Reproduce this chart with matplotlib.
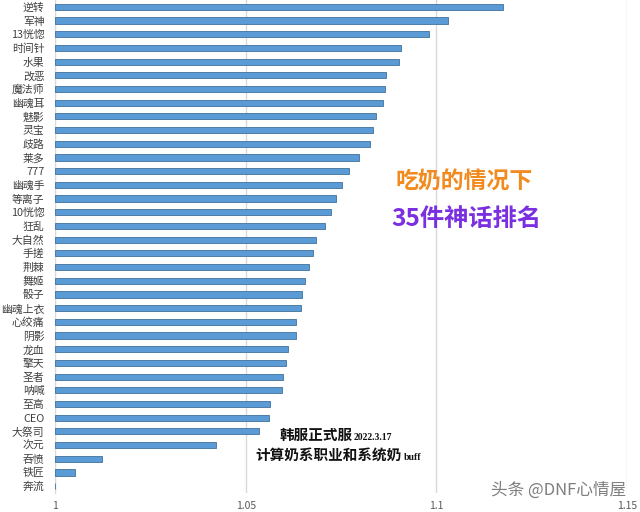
import matplotlib
matplotlib.use("Agg")
import matplotlib.pyplot as plt

plt.rcParams['font.family'] = ['Noto Sans CJK SC', 'DejaVu Sans']

categories = ['逆转', '军神', '13恍惚', '时间针', '水果', '改恶', '魔法师', '幽魂耳', '魅影', '灵宝',
              '歧路', '莱多', '777', '幽魂手', '等离子', '10恍惚', '狂乱', '大自然', '手搓', '荆棘',
              '舞姬', '骰子', '幽魂上衣', '心绞痛', '阴影', '龙血', '擎天', '圣者', '呐喊', '至高',
              'CEO', '大祭司', '次元', '吞愤', '铁匠', '奔流']
values = [1.1176, 1.1031, 1.0981, 1.0908, 1.0903, 1.0869, 1.0866, 1.0861, 1.0841, 1.0833,
          1.0826, 1.0797, 1.0771, 1.0753, 1.0737, 1.0724, 1.0707, 1.0684, 1.0676, 1.0667,
          1.0655, 1.0649, 1.0645, 1.0633, 1.0632, 1.0611, 1.0607, 1.0599, 1.0595, 1.0565,
          1.0561, 1.0535, 1.0421, 1.0124, 1.0053, 1.0]
x_ticks = [1.0, 1.05, 1.1, 1.15]
x_tick_labels = ['1', '1.05', '1.1', '1.15']
base = 1.0

W, H = 640, 512
fig = plt.figure(figsize=(6.4, 5.12), dpi=100)
ax = fig.add_axes([55 / W, 1 - 493 / H, (627 - 55) / W, 493 / H])

ypos = list(range(len(categories)))
ax.barh(ypos, [v - base for v in values], left=base, height=0.45,
        color='#5B9BD5', edgecolor='#41719C', linewidth=0.6, zorder=3)
ax.set_ylim(len(categories) - 0.5, -0.5)
ax.set_xlim(1.0, 1.15)
ax.set_yticks(ypos)
ax.set_yticklabels(categories, fontsize=7.8, color='#404040')
ax.set_xticks(x_ticks)
ax.set_xticklabels(x_tick_labels, fontsize=7.5, color='#595959')
ax.tick_params(axis='y', length=0, pad=7.5)
ax.tick_params(axis='x', length=0, pad=6)
ax.grid(axis='x', color='#D9D9D9', linewidth=1, zorder=0)
for s in ['top', 'right', 'bottom']:
    ax.spines[s].set_visible(False)
ax.spines['left'].set_color('#D9D9D9')

def fx(px):
    return px / W

def fy(py):
    return 1 - py / H

fig.text(fx(464), fy(182), '吃奶的情况下', fontsize=16.5, fontweight='bold', color='#F28A1E',
         ha='center', va='center')
fig.text(fx(466), fy(219), '35件神话排名', fontsize=17.5, fontweight='bold', color='#7A2FE0',
         ha='center', va='center')

fig.text(fx(280), fy(435), '韩服正式服', fontsize=10.5, fontweight='bold', color='#111111',
         ha='left', va='center')
fig.text(fx(354), fy(437), '2022.3.17', fontsize=7, fontweight='bold', color='#111111',
         ha='left', va='center', family='Liberation Serif')
fig.text(fx(255), fy(455), '计算奶系职业和系统奶', fontsize=10.5, fontweight='bold', color='#111111',
         ha='left', va='center')
fig.text(fx(404), fy(457), 'buff', fontsize=7, fontweight='bold', color='#111111',
         ha='left', va='center', family='Liberation Serif')

fig.text(fx(626), fy(490), '头条 @DNF心情屋', fontsize=12, color='#7F7F7F',
         ha='right', va='center')

fig.savefig('out.png', dpi=100, facecolor='white')
